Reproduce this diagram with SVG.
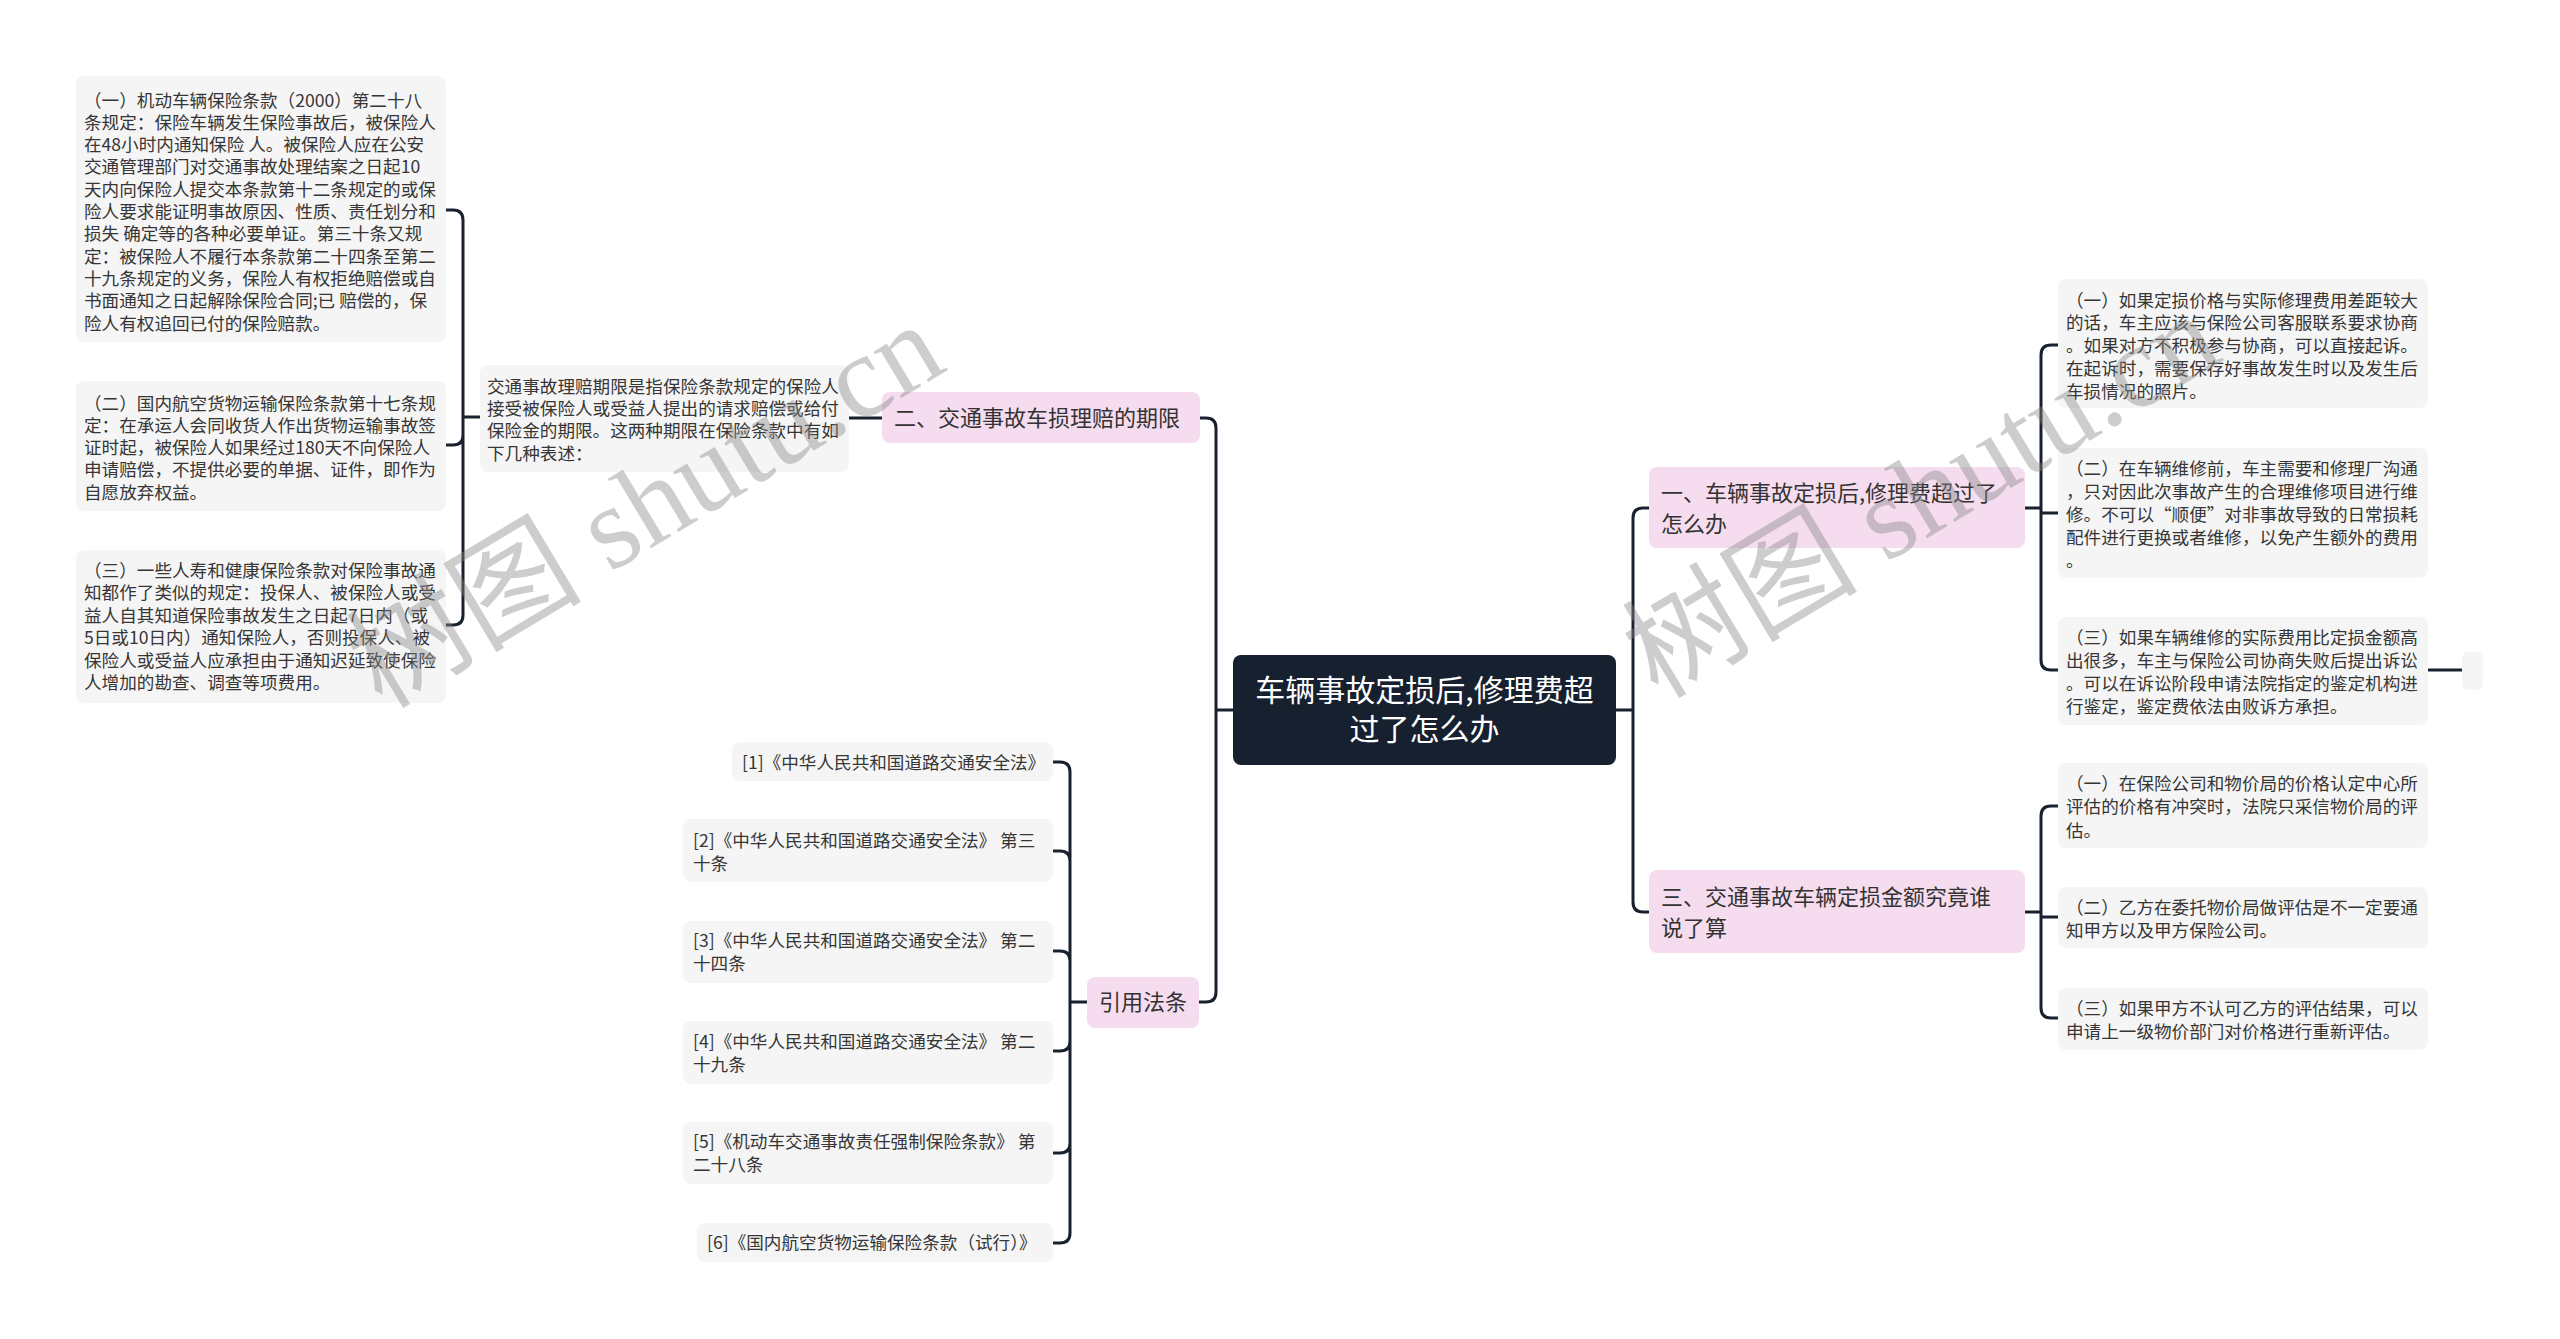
<svg xmlns="http://www.w3.org/2000/svg" width="2560" height="1339" viewBox="0 0 2560 1339">
<style>
.t{font-family:"Noto Sans CJK SC","Liberation Sans",sans-serif;font-size:17.6px;fill:#363636}
.p{font-family:"Noto Sans CJK SC","Liberation Sans",sans-serif;font-size:22px;fill:#333}
.r{font-family:"Noto Sans CJK SC","Liberation Sans",sans-serif;font-size:30px;fill:#fff;text-anchor:middle}
.box{fill:#f5f5f5}
.pink{fill:#f5dcef}
.root{fill:#16202f}
.conn{fill:none;stroke:#19212f;stroke-width:3;stroke-linecap:round;stroke-linejoin:round}
.wm{font-family:"Liberation Serif","Noto Sans CJK SC",serif;font-size:118px;fill:#8a8a8a;opacity:0.42}
</style>
<rect width="2560" height="1339" fill="#fff"/>
<g id="connectors">
<path class="conn" d="M1233,710 H1216 M1200,418 H1206 Q1216,418 1216,428 V992 Q1216,1002 1206,1002 H1199"/>
<path class="conn" d="M1616,710 H1633 M1649,508 H1643 Q1633,508 1633,518 V902 Q1633,912 1643,912 H1649"/>
<path class="conn" d="M882,418 H849"/>
<path class="conn" d="M480,417 H463 M446,210 H453 Q463,210 463,220 V615 Q463,625 453,625 H446 M446,445 H453 Q463,445 463,435"/>
<path class="conn" d="M2025,508 H2041 M2058,345 H2051 Q2041,345 2041,355 V660 Q2041,670 2051,670 H2058 M2041,513 H2058"/>
<path class="conn" d="M2025,912 H2041 M2058,806 H2051 Q2041,806 2041,816 V1008 Q2041,1018 2051,1018 H2058 M2041,917 H2058"/>
<path class="conn" d="M2428,670 H2462"/>
<path class="conn" d="M1087,1002 H1070 M1053,762 H1060 Q1070,762 1070,772 V1233 Q1070,1243 1060,1243 H1053 M1053,851 H1060 Q1070,851 1070,861 M1053,951 H1060 Q1070,951 1070,961 M1053,1051 H1060 Q1070,1051 1070,1041 M1053,1153 H1060 Q1070,1153 1070,1143"/>
</g>
<g id="root"><rect class="root" x="1233" y="655" width="383" height="110" rx="8"/><text class="r"><tspan x="1424.5" y="701">车辆事故定损后,修理费超</tspan><tspan x="1424.5" y="740">过了怎么办</tspan></text></g>
<g id="n2"><rect class="pink" x="882" y="392" width="318" height="51" rx="8"/><text class="p" x="894" y="426.4">二、交通事故车损理赔的期限</text></g>
<g id="n2-desc"><rect class="box" x="480" y="365" width="369" height="107" rx="8"/><text class="t"><tspan x="487" y="392.5">交通事故理赔期限是指保险条款规定的保险人</tspan><tspan x="487" y="414.9">接受被保险人或受益人提出的请求赔偿或给付</tspan><tspan x="487" y="437.3">保险金的期限。这两种期限在保险条款中有如</tspan><tspan x="487" y="459.7">下几种表述：</tspan></text></g>
<g id="n2-1"><rect class="box" x="76" y="76" width="370" height="266" rx="8"/><text class="t"><tspan x="84" y="106.5">（一）机动车辆保险条款（2000）第二十八</tspan><tspan x="84" y="128.8">条规定：保险车辆发生保险事故后，被保险人</tspan><tspan x="84" y="151.1">在48小时内通知保险 人。被保险人应在公安</tspan><tspan x="84" y="173.4">交通管理部门对交通事故处理结案之日起10</tspan><tspan x="84" y="195.7">天内向保险人提交本条款第十二条规定的或保</tspan><tspan x="84" y="218">险人要求能证明事故原因、性质、责任划分和</tspan><tspan x="84" y="240.3">损失 确定等的各种必要单证。第三十条又规</tspan><tspan x="84" y="262.6">定：被保险人不履行本条款第二十四条至第二</tspan><tspan x="84" y="284.9">十九条规定的义务，保险人有权拒绝赔偿或自</tspan><tspan x="84" y="307.2">书面通知之日起解除保险合同;已 赔偿的，保</tspan><tspan x="84" y="329.5">险人有权追回已付的保险赔款。</tspan></text></g>
<g id="n2-2"><rect class="box" x="76" y="381" width="370" height="130" rx="8"/><text class="t"><tspan x="84" y="409.5">（二）国内航空货物运输保险条款第十七条规</tspan><tspan x="84" y="431.8">定：在承运人会同收货人作出货物运输事故签</tspan><tspan x="84" y="454.1">证时起，被保险人如果经过180天不向保险人</tspan><tspan x="84" y="476.4">申请赔偿，不提供必要的单据、证件，即作为</tspan><tspan x="84" y="498.7">自愿放弃权益。</tspan></text></g>
<g id="n2-3"><rect class="box" x="76" y="550" width="370" height="153" rx="8"/><text class="t"><tspan x="84" y="576.5">（三）一些人寿和健康保险条款对保险事故通</tspan><tspan x="84" y="599">知都作了类似的规定：投保人、被保险人或受</tspan><tspan x="84" y="621.5">益人自其知道保险事故发生之日起7日内（或</tspan><tspan x="84" y="644">5日或10日内）通知保险人，否则投保人、被</tspan><tspan x="84" y="666.5">保险人或受益人应承担由于通知迟延致使保险</tspan><tspan x="84" y="689">人增加的勘查、调查等项费用。</tspan></text></g>
<g id="n1"><rect class="pink" x="1649" y="467" width="376" height="81" rx="8"/><text class="p"><tspan x="1661" y="500.5">一、车辆事故定损后,修理费超过了</tspan><tspan x="1661" y="531.5">怎么办</tspan></text></g>
<g id="n1-1"><rect class="box" x="2058" y="279" width="370" height="129" rx="8"/><text class="t"><tspan x="2066" y="306.5">（一）如果定损价格与实际修理费用差距较大</tspan><tspan x="2066" y="329.3">的话，车主应该与保险公司客服联系要求协商</tspan><tspan x="2066" y="352.1">。如果对方不积极参与协商，可以直接起诉。</tspan><tspan x="2066" y="374.9">在起诉时，需要保存好事故发生时以及发生后</tspan><tspan x="2066" y="397.7">车损情况的照片。</tspan></text></g>
<g id="n1-2"><rect class="box" x="2058" y="448" width="370" height="130" rx="8"/><text class="t"><tspan x="2066" y="474.5">（二）在车辆维修前，车主需要和修理厂沟通</tspan><tspan x="2066" y="497.5">，只对因此次事故产生的合理维修项目进行维</tspan><tspan x="2066" y="520.5">修。不可以“顺便”对非事故导致的日常损耗</tspan><tspan x="2066" y="543.5">配件进行更换或者维修，以免产生额外的费用</tspan><tspan x="2066" y="566.5">。</tspan></text></g>
<g id="n1-3"><rect class="box" x="2058" y="617" width="370" height="108" rx="8"/><text class="t"><tspan x="2066" y="643.5">（三）如果车辆维修的实际费用比定损金额高</tspan><tspan x="2066" y="666.5">出很多，车主与保险公司协商失败后提出诉讼</tspan><tspan x="2066" y="689.5">。可以在诉讼阶段申请法院指定的鉴定机构进</tspan><tspan x="2066" y="712.5">行鉴定，鉴定费依法由败诉方承担。</tspan></text></g>
<g id="n1-3-1"><rect class="box" x="2462" y="652" width="21" height="38" rx="6"/></g>
<g id="n3"><rect class="pink" x="1649" y="870" width="376" height="83" rx="8"/><text class="p"><tspan x="1661" y="904.5">三、交通事故车辆定损金额究竟谁</tspan><tspan x="1661" y="935.5">说了算</tspan></text></g>
<g id="n3-1"><rect class="box" x="2058" y="763" width="370" height="85" rx="8"/><text class="t"><tspan x="2066" y="789.5">（一）在保险公司和物价局的价格认定中心所</tspan><tspan x="2066" y="813">评估的价格有冲突时，法院只采信物价局的评</tspan><tspan x="2066" y="836.5">估。</tspan></text></g>
<g id="n3-2"><rect class="box" x="2058" y="887" width="370" height="61" rx="8"/><text class="t"><tspan x="2066" y="913.5">（二）乙方在委托物价局做评估是不一定要通</tspan><tspan x="2066" y="936.5">知甲方以及甲方保险公司。</tspan></text></g>
<g id="n3-3"><rect class="box" x="2058" y="988" width="370" height="62" rx="8"/><text class="t"><tspan x="2066" y="1014.5">（三）如果甲方不认可乙方的评估结果，可以</tspan><tspan x="2066" y="1037.5">申请上一级物价部门对价格进行重新评估。</tspan></text></g>
<g id="n4"><rect class="pink" x="1087" y="977" width="112" height="51" rx="8"/><text class="p" x="1099" y="1010">引用法条</text></g>
<g id="law1"><rect class="box" x="732" y="742" width="321" height="39" rx="8"/><text class="t" x="742" y="768.5">[1]《中华人民共和国道路交通安全法》</text></g>
<g id="law2"><rect class="box" x="683" y="819" width="370" height="63" rx="8"/><text class="t"><tspan x="693" y="846.5">[2]《中华人民共和国道路交通安全法》 第三</tspan><tspan x="693" y="869.5">十条</tspan></text></g>
<g id="law3"><rect class="box" x="683" y="921" width="370" height="62" rx="8"/><text class="t"><tspan x="693" y="946.5">[3]《中华人民共和国道路交通安全法》 第二</tspan><tspan x="693" y="969.5">十四条</tspan></text></g>
<g id="law4"><rect class="box" x="683" y="1021" width="370" height="63" rx="8"/><text class="t"><tspan x="693" y="1047.5">[4]《中华人民共和国道路交通安全法》 第二</tspan><tspan x="693" y="1070.5">十九条</tspan></text></g>
<g id="law5"><rect class="box" x="683" y="1122" width="370" height="62" rx="8"/><text class="t"><tspan x="693" y="1148">[5]《机动车交通事故责任强制保险条款》 第</tspan><tspan x="693" y="1171">二十八条</tspan></text></g>
<g id="law6"><rect class="box" x="697" y="1223" width="356" height="39" rx="8"/><text class="t" x="707" y="1249">[6]《国内航空货物运输保险条款（试行）》</text></g>
<g id="watermarks">
<text class="wm" transform="translate(382,710) rotate(-31)">树图 shutu.cn</text>
<text class="wm" transform="translate(1658,700) rotate(-31)">树图 shutu.cn</text>
</g>
</svg>
